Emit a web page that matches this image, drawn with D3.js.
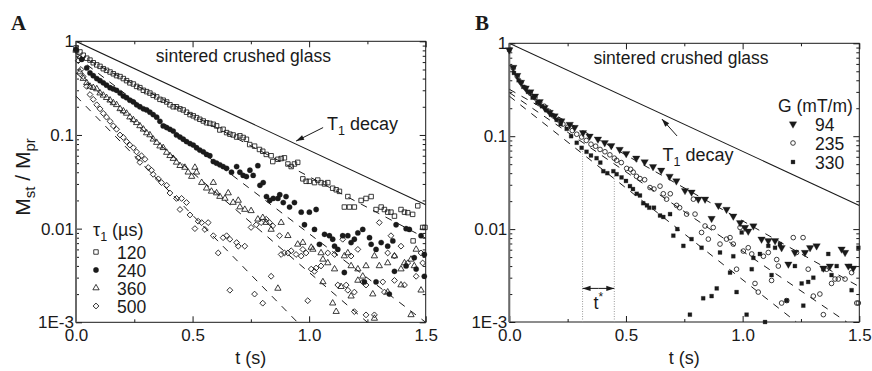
<!DOCTYPE html>
<html>
<head>
<meta charset="utf-8">
<script src="https://cdn.jsdelivr.net/npm/d3@7"></script>
<style>
  body { margin: 0; background: #fff; }
  svg { display: block; }
</style>
</head>
<body>
<svg id="fig" width="872" height="371"></svg>
<script>
// ---- data: [t (s), Mst/Mpr] ----
const xTicks = [0, 0.5, 1.0, 1.5];
const xMinor = [0.25, 0.75, 1.25];
const yTicks = [1, 0.1, 0.01, 0.001];
const yTickLabels = ["1", "0.1", "0.01", "1E-3"];

// panel A, tau1 = 120 us (open squares)
const a120 = [[0,0.85],[0.017,0.77],[0.031,0.71],[0.046,0.66],[0.060,0.63],[0.074,0.59],[0.089,0.56],[0.103,0.54],[0.117,0.51],[0.131,0.49],[0.146,0.47],[0.160,0.45],[0.174,0.43],[0.189,0.42],[0.203,0.40],[0.217,0.38],[0.231,0.36],[0.246,0.35],[0.260,0.33],[0.274,0.32],[0.289,0.30],[0.303,0.29],[0.317,0.28],[0.331,0.265],[0.346,0.255],[0.360,0.24],[0.374,0.235],[0.389,0.225],[0.403,0.21],[0.417,0.20],[0.431,0.20],[0.446,0.19],[0.460,0.185],[0.474,0.175],[0.489,0.165],[0.503,0.16],[0.517,0.153],[0.531,0.147],[0.546,0.141],[0.560,0.135],[0.574,0.133],[0.589,0.13],[0.603,0.125],[0.617,0.113],[0.631,0.115],[0.646,0.106],[0.660,0.102],[0.674,0.10],[0.689,0.095],[0.703,0.098],[0.717,0.094],[0.731,0.09],[0.745,0.079],[0.766,0.076],[0.787,0.070],[0.801,0.067],[0.816,0.062],[0.837,0.060],[0.844,0.052],[0.866,0.055],[0.880,0.056],[0.894,0.057],[0.909,0.049],[0.923,0.046],[0.937,0.049],[0.951,0.051],[0.973,0.034],[0.987,0.032],[1.001,0.032],[1.023,0.031],[1.037,0.033],[1.051,0.031],[1.066,0.030],[1.080,0.031],[1.101,0.027],[1.116,0.026],[1.130,0.025],[1.151,0.017],[1.166,0.022],[1.173,0.017],[1.194,0.017],[1.223,0.020],[1.244,0.021],[1.266,0.022],[1.287,0.016],[1.309,0.017],[1.323,0.016],[1.337,0.015],[1.351,0.015],[1.366,0.0136],[1.394,0.016],[1.409,0.015],[1.423,0.0148],[1.444,0.0142],[1.446,0.0074],[1.466,0.0175],[1.487,0.0103],[1.497,0.0103]];

// panel A, tau1 = 240 us (filled circles)
const a240 = [[0,0.82],[0.024,0.64],[0.046,0.52],[0.060,0.46],[0.074,0.43],[0.089,0.40],[0.103,0.38],[0.117,0.36],[0.131,0.34],[0.146,0.32],[0.160,0.31],[0.174,0.30],[0.189,0.28],[0.203,0.26],[0.217,0.25],[0.231,0.235],[0.246,0.225],[0.260,0.21],[0.274,0.20],[0.289,0.19],[0.303,0.185],[0.317,0.175],[0.331,0.165],[0.346,0.155],[0.360,0.14],[0.374,0.125],[0.389,0.12],[0.403,0.115],[0.417,0.11],[0.431,0.10],[0.446,0.095],[0.460,0.09],[0.474,0.085],[0.489,0.081],[0.503,0.078],[0.517,0.073],[0.531,0.069],[0.546,0.066],[0.560,0.062],[0.574,0.06],[0.589,0.052],[0.603,0.05],[0.617,0.048],[0.631,0.046],[0.646,0.044],[0.667,0.040],[0.689,0.046],[0.703,0.040],[0.717,0.037],[0.731,0.036],[0.746,0.042],[0.76,0.037],[0.78,0.047],[0.789,0.029],[0.803,0.031],[0.817,0.022],[0.831,0.020],[0.846,0.021],[0.866,0.021],[0.874,0.023],[0.889,0.019],[0.901,0.022],[0.916,0.017],[0.937,0.019],[0.966,0.015],[0.980,0.011],[1.001,0.015],[1.023,0.0098],[1.030,0.016],[1.044,0.0068],[1.066,0.0087],[1.087,0.0084],[1.101,0.0077],[1.109,0.0065],[1.123,0.006],[1.144,0.0084],[1.151,0.0034],[1.166,0.0084],[1.180,0.0071],[1.194,0.0077],[1.209,0.009],[1.230,0.0098],[1.237,0.0027],[1.259,0.008],[1.266,0.0068],[1.287,0.006],[1.287,0.0027],[1.309,0.0071],[1.337,0.0065],[1.344,0.002],[1.359,0.0074],[1.366,0.0035],[1.373,0.011],[1.416,0.010],[1.416,0.004],[1.430,0.0098],[1.451,0.0049],[1.459,0.0037],[1.480,0.0084],[1.494,0.0053],[1.494,0.0031]];

// panel A, tau1 = 360 us (open triangles)
const a360 = [[0,0.80],[0.017,0.47],[0.031,0.40],[0.046,0.36],[0.060,0.33],[0.074,0.32],[0.089,0.31],[0.103,0.28],[0.117,0.265],[0.131,0.25],[0.146,0.235],[0.160,0.22],[0.174,0.21],[0.189,0.19],[0.203,0.18],[0.217,0.17],[0.231,0.155],[0.246,0.145],[0.260,0.135],[0.274,0.125],[0.289,0.115],[0.303,0.105],[0.317,0.10],[0.331,0.090],[0.346,0.083],[0.360,0.076],[0.374,0.073],[0.389,0.065],[0.403,0.060],[0.417,0.056],[0.431,0.051],[0.446,0.047],[0.467,0.045],[0.481,0.040],[0.496,0.036],[0.510,0.045],[0.517,0.040],[0.539,0.031],[0.560,0.027],[0.581,0.025],[0.589,0.031],[0.603,0.024],[0.617,0.022],[0.639,0.021],[0.653,0.024],[0.674,0.019],[0.696,0.020],[0.703,0.017],[0.724,0.016],[0.751,0.0155],[0.780,0.0126],[0.801,0.0131],[0.816,0.0116],[0.837,0.0098],[0.866,0.0023],[0.880,0.0116],[0.909,0.0084],[0.951,0.0068],[0.973,0.0071],[1.009,0.0063],[1.016,0.006],[1.051,0.0055],[1.059,0.0047],[1.059,0.0027],[1.080,0.0043],[1.101,0.0016],[1.109,0.0037],[1.116,0.0013],[1.137,0.0024],[1.151,0.0051],[1.166,0.0055],[1.180,0.004],[1.180,0.0019],[1.209,0.0037],[1.209,0.0028],[1.230,0.0031],[1.244,0.004],[1.273,0.002],[1.280,0.0051],[1.280,0.0011],[1.301,0.004],[1.337,0.0043],[1.337,0.0021],[1.366,0.0051],[1.394,0.0037],[1.394,0.0025],[1.409,0.0043],[1.437,0.0047],[1.437,0.0012],[1.451,0.004],[1.459,0.006],[1.480,0.0022]];

// panel A, tau1 = 500 us (open diamonds)
const a500 = [[0,0.80],[0.010,0.62],[0.021,0.50],[0.031,0.42],[0.046,0.33],[0.060,0.27],[0.074,0.24],[0.089,0.21],[0.103,0.19],[0.117,0.17],[0.131,0.155],[0.146,0.14],[0.160,0.125],[0.174,0.115],[0.189,0.10],[0.203,0.094],[0.217,0.085],[0.231,0.078],[0.246,0.073],[0.260,0.066],[0.267,0.057],[0.274,0.051],[0.281,0.06],[0.296,0.055],[0.310,0.045],[0.324,0.042],[0.331,0.038],[0.353,0.034],[0.367,0.031],[0.389,0.029],[0.403,0.024],[0.431,0.021],[0.446,0.016],[0.453,0.021],[0.474,0.019],[0.489,0.014],[0.510,0.010],[0.524,0.012],[0.539,0.0116],[0.553,0.0098],[0.567,0.0116],[0.589,0.0084],[0.610,0.0055],[0.631,0.008],[0.646,0.0084],[0.660,0.0077],[0.660,0.0022],[0.689,0.0071],[0.696,0.0065],[0.724,0.0065],[0.751,0.0103],[0.766,0.002],[0.773,0.011],[0.794,0.0116],[0.801,0.0016],[0.816,0.0126],[0.830,0.0116],[0.837,0.0031],[0.844,0.0107],[0.873,0.0084],[0.880,0.0053],[0.894,0.0055],[0.909,0.0055],[0.923,0.0058],[0.944,0.0053],[0.966,0.0051],[0.973,0.006],[0.987,0.0055],[0.994,0.0017],[1.009,0.0037],[1.023,0.0035],[1.030,0.0038],[1.051,0.004],[1.080,0.0055],[1.109,0.0053],[1.123,0.0025],[1.144,0.0077],[1.159,0.0025],[1.166,0.0022],[1.180,0.0051],[1.194,0.0021],[1.194,0.0013],[1.209,0.006],[1.230,0.0027],[1.244,0.0025],[1.244,0.0012],[1.280,0.0012],[1.301,0.0116],[1.316,0.0027],[1.323,0.0021],[1.337,0.0055],[1.351,0.0084],[1.366,0.0051],[1.366,0.0028],[1.394,0.0065],[1.409,0.0025],[1.423,0.0043],[1.459,0.0031],[1.480,0.0055],[1.487,0.0043]];

// panel B, G = 94 mT/m (filled down-triangles)
const b94 = [[0,0.85],[0.017,0.55],[0.034,0.45],[0.05,0.38],[0.07,0.33],[0.09,0.30],[0.11,0.27],[0.13,0.235],[0.151,0.203],[0.173,0.18],[0.194,0.165],[0.223,0.146],[0.259,0.134],[0.280,0.124],[0.316,0.109],[0.344,0.10],[0.380,0.093],[0.409,0.085],[0.437,0.079],[0.473,0.072],[0.501,0.065],[0.544,0.058],[0.580,0.053],[0.616,0.047],[0.651,0.043],[0.687,0.037],[0.716,0.033],[0.753,0.026],[0.781,0.025],[0.810,0.021],[0.839,0.021],[0.867,0.013],[0.896,0.018],[0.931,0.0163],[0.960,0.0138],[0.989,0.0117],[1.010,0.0104],[1.024,0.0095],[1.046,0.0108],[1.081,0.0078],[1.110,0.0075],[1.139,0.0075],[1.167,0.0063],[1.196,0.0042],[1.224,0.0056],[1.267,0.0056],[1.289,0.0063],[1.317,0.0066],[1.346,0.0038],[1.374,0.004],[1.424,0.0061],[1.439,0.0056],[1.453,0.004],[1.474,0.0038]];

// panel B, G = 235 mT/m (open circles)
const b235 = [[0.017,0.54],[0.034,0.44],[0.05,0.38],[0.07,0.33],[0.09,0.29],[0.11,0.26],[0.13,0.23],[0.15,0.21],[0.17,0.185],[0.19,0.165],[0.21,0.15],[0.23,0.135],[0.25,0.125],[0.27,0.115],[0.289,0.105],[0.31,0.098],[0.33,0.090],[0.35,0.082],[0.37,0.078],[0.389,0.072],[0.41,0.068],[0.431,0.063],[0.45,0.058],[0.46,0.055],[0.48,0.052],[0.503,0.045],[0.52,0.044],[0.531,0.041],[0.545,0.037],[0.56,0.035],[0.58,0.034],[0.603,0.028],[0.62,0.027],[0.646,0.029],[0.66,0.024],[0.674,0.021],[0.69,0.024],[0.717,0.018],[0.73,0.017],[0.76,0.0145],[0.789,0.021],[0.796,0.0145],[0.824,0.0092],[0.839,0.0108],[0.853,0.0078],[0.874,0.0104],[0.903,0.0069],[0.931,0.0078],[0.946,0.0081],[0.960,0.0069],[0.974,0.0037],[0.989,0.0104],[1.003,0.0058],[1.024,0.0063],[1.039,0.0054],[1.053,0.0026],[1.067,0.0021],[1.089,0.0051],[1.110,0.0056],[1.124,0.0028],[1.146,0.0047],[1.153,0.004],[1.167,0.0016],[1.189,0.0017],[1.217,0.0081],[1.231,0.0056],[1.259,0.0081],[1.281,0.0037],[1.303,0.0019],[1.331,0.002],[1.346,0.0012],[1.360,0.0037],[1.381,0.0026],[1.396,0.0029],[1.410,0.0029],[1.439,0.0029],[1.467,0.0034],[1.489,0.0016],[1.496,0.0016]];

// panel B, G = 330 mT/m (filled squares)
const b330 = [[0,0.85],[0.02,0.48],[0.04,0.40],[0.06,0.34],[0.08,0.30],[0.10,0.26],[0.12,0.23],[0.14,0.21],[0.16,0.19],[0.18,0.17],[0.203,0.15],[0.22,0.135],[0.246,0.12],[0.265,0.10],[0.289,0.085],[0.31,0.075],[0.331,0.068],[0.35,0.062],[0.374,0.058],[0.39,0.052],[0.403,0.042],[0.42,0.040],[0.446,0.042],[0.46,0.039],[0.481,0.036],[0.50,0.033],[0.517,0.029],[0.53,0.027],[0.546,0.024],[0.56,0.023],[0.574,0.019],[0.59,0.018],[0.60,0.017],[0.62,0.017],[0.646,0.014],[0.66,0.0135],[0.689,0.0145],[0.703,0.0085],[0.72,0.010],[0.746,0.0066],[0.774,0.0012],[0.781,0.0078],[0.824,0.0063],[0.831,0.0018],[0.867,0.0019],[0.889,0.0023],[0.903,0.0056],[0.946,0.0034],[0.960,0.0051],[0.974,0.0021],[0.996,0.0092],[1.017,0.0012],[1.039,0.0037],[1.046,0.0049],[1.074,0.0054],[1.096,0.001],[1.110,0.0066],[1.124,0.0032],[1.139,0.0063],[1.160,0.0069],[1.189,0.0017],[1.224,0.004],[1.253,0.0026],[1.260,0.0015],[1.281,0.0027],[1.303,0.003],[1.346,0.0037],[1.367,0.0054],[1.381,0.0032],[1.403,0.004],[1.460,0.004],[1.467,0.0022],[1.496,0.0063]];

// exponential fits (dashed) and T1 decay (solid): [t0, v0, t1, v1]
const fitsA = [[0,0.74,1.5,0.0079],[0,0.69,1.5,0.001],[0,0.46,1.25,0.001],[0,0.26,0.95,0.001]];
const fitsB = [[0,0.32,1.5,0.0024],[0,0.295,1.446,0.001],[0,0.27,1.23,0.001]];
const t1Decay = [0,1,1.5,0.018];
const tStar = [0.314, 0.45];

const FONT = "'Liberation Sans', Arial, Helvetica, sans-serif";
const INK = "#1a1a1a";
const svg = d3.select("#fig");

function panel(cfg) {
  const x = d3.scaleLinear().domain([0, 1.5]).range([cfg.left, cfg.right]);
  const y = d3.scaleLog().domain([0.001, 1]).range([cfg.bottom, cfg.top]);
  const g = svg.append("g");

  g.append("clipPath").attr("id", "clip" + cfg.name).append("rect")
    .attr("x", cfg.left).attr("y", cfg.top)
    .attr("width", cfg.right - cfg.left).attr("height", cfg.bottom - cfg.top);

  const minorY = [];
  for (let e = -3; e < 0; e++) for (let k = 2; k <= 9; k++) minorY.push(k * Math.pow(10, e));

  const styleAxis = sel => {
    sel.select(".domain").remove();
    sel.selectAll("line").attr("stroke", INK).attr("stroke-width", 1);
    sel.selectAll("text").attr("font-family", FONT).attr("font-size", 17).attr("fill", INK);
  };

  g.append("g").attr("transform", `translate(0,${cfg.bottom})`)
    .call(d3.axisBottom(x).tickValues(xTicks).tickSizeInner(-6).tickSizeOuter(0).tickPadding(7).tickFormat(d3.format(".1f")))
    .call(styleAxis);
  g.append("g").attr("transform", `translate(0,${cfg.bottom})`)
    .call(d3.axisBottom(x).tickValues(xMinor).tickSizeInner(-3).tickSizeOuter(0).tickFormat(""))
    .call(styleAxis);
  g.append("g").attr("transform", `translate(0,${cfg.top})`)
    .call(d3.axisTop(x).tickValues(xTicks).tickSizeInner(-6).tickSizeOuter(0).tickFormat(""))
    .call(styleAxis);
  g.append("g").attr("transform", `translate(0,${cfg.top})`)
    .call(d3.axisTop(x).tickValues(xMinor).tickSizeInner(-3).tickSizeOuter(0).tickFormat(""))
    .call(styleAxis);

  g.append("g").attr("transform", `translate(${cfg.left},0)`)
    .call(d3.axisLeft(y).tickValues(yTicks).tickSizeInner(-6).tickSizeOuter(0).tickPadding(2)
      .tickFormat((d, i) => yTickLabels[i]))
    .call(styleAxis);
  g.append("g").attr("transform", `translate(${cfg.left},0)`)
    .call(d3.axisLeft(y).tickValues(minorY).tickSizeInner(-3).tickSizeOuter(0).tickFormat(""))
    .call(styleAxis);
  g.append("g").attr("transform", `translate(${cfg.right},0)`)
    .call(d3.axisRight(y).tickValues(yTicks).tickSizeInner(-6).tickSizeOuter(0).tickFormat(""))
    .call(styleAxis);
  g.append("g").attr("transform", `translate(${cfg.right},0)`)
    .call(d3.axisRight(y).tickValues(minorY).tickSizeInner(-3).tickSizeOuter(0).tickFormat(""))
    .call(styleAxis);

  // frame
  g.append("rect").attr("x", cfg.left).attr("y", cfg.top)
    .attr("width", cfg.right - cfg.left).attr("height", cfg.bottom - cfg.top)
    .attr("fill", "none").attr("stroke", INK).attr("stroke-width", 1);
  g.append("line").attr("x1", cfg.left).attr("x2", cfg.left)
    .attr("y1", cfg.top).attr("y2", cfg.bottom)
    .attr("stroke", "#6a6a6a").attr("stroke-width", 2);

  const lines = g.append("g").attr("clip-path", `url(#clip${cfg.name})`);
  lines.append("line")
    .attr("x1", x(t1Decay[0])).attr("y1", y(t1Decay[1]))
    .attr("x2", x(t1Decay[2])).attr("y2", y(t1Decay[3]))
    .attr("stroke", INK).attr("stroke-width", 1.1);
  lines.selectAll("line.fit").data(cfg.fits).enter().append("line")
    .attr("class", "fit")
    .attr("x1", d => x(d[0])).attr("y1", d => y(d[1]))
    .attr("x2", d => x(d[2])).attr("y2", d => y(d[3]))
    .attr("stroke", INK).attr("stroke-width", 1).attr("stroke-dasharray", "7,7");

  // panel letter
  svg.append("text").attr("x", cfg.letterX).attr("y", 30)
    .attr("font-family", "'Liberation Serif', 'Times New Roman', serif")
    .attr("font-weight", "bold").attr("font-size", 21).attr("fill", INK)
    .text(cfg.name);

  // x title
  g.append("text").attr("x", x(0.75)).attr("y", 364)
    .attr("text-anchor", "middle").attr("font-family", FONT).attr("font-size", 18).attr("fill", INK)
    .text("t (s)");

  // sample title
  g.append("text").attr("x", x(cfg.glassT)).attr("y", y(0.6))
    .attr("text-anchor", "middle").attr("font-family", FONT).attr("font-size", 17.5).attr("fill", INK)
    .text("sintered crushed glass");

  return { g, x, y };
}

function sym(type, size, rot) {
  const p = d3.symbol().type(type).size(size)();
  return rot ? p : p;
}

function drawSeries(g, x, y, s) {
  const path = d3.symbol().type(s.type).size(s.size)();
  g.append("g").selectAll("path").data(s.data).enter().append("path")
    .attr("d", path)
    .attr("transform", d => `translate(${x(d[0])},${y(d[1])})${s.rot ? " rotate(" + s.rot + ")" : ""}`)
    .attr("fill", s.filled ? INK : "#fff")
    .attr("fill-opacity", s.filled ? 1 : 0)
    .attr("stroke", INK).attr("stroke-width", s.filled ? 0.3 : 0.85);
}

function legendMark(g, px, py, s) {
  g.append("path").attr("d", d3.symbol().type(s.type).size(s.size)())
    .attr("transform", `translate(${px},${py})${s.rot ? " rotate(" + s.rot + ")" : ""}`)
    .attr("fill", s.filled ? INK : "none")
    .attr("stroke", INK).attr("stroke-width", s.filled ? 0.3 : 0.85);
}

function t1Label(g, px, py) {
  const t = g.append("text").attr("x", px).attr("y", py)
    .attr("font-family", FONT).attr("font-size", 18).attr("fill", INK);
  t.append("tspan").text("T");
  t.append("tspan").attr("font-size", 12.5).attr("dy", 5).text("1");
  t.append("tspan").attr("dy", -5).text(" decay");
}

function arrow(g, x1, y1, x2, y2) {
  g.append("line").attr("x1", x1).attr("y1", y1).attr("x2", x2).attr("y2", y2)
    .attr("stroke", INK).attr("stroke-width", 1);
  const a = Math.atan2(y2 - y1, x2 - x1), L = 8, W = 2.6;
  const bx = x2 - L * Math.cos(a), by = y2 - L * Math.sin(a);
  g.append("path")
    .attr("d", `M${x2},${y2}L${bx + W * Math.sin(a)},${by - W * Math.cos(a)}L${bx - W * Math.sin(a)},${by + W * Math.cos(a)}Z`)
    .attr("fill", INK);
}

// ---------------- panel A ----------------
const A = panel({ name: "A", left: 76, right: 425.7, top: 41.3, bottom: 322.3, fits: fitsA, letterX: 11, glassT: 0.718 });
const seriesA = [
  { label: "120", data: a120, type: d3.symbolSquare, size: 20 },
  { label: "240", data: a240, type: d3.symbolCircle, size: 22, filled: true },
  { label: "360", data: a360, type: d3.symbolTriangle, size: 17 },
  { label: "500", data: a500, type: d3.symbolSquare, size: 17, rot: 45 }
];
seriesA.forEach(s => drawSeries(A.g, A.x, A.y, s));

// y title
const yt = A.g.append("text").attr("transform", "translate(30,177) rotate(-90)")
  .attr("text-anchor", "middle").attr("font-family", FONT).attr("font-size", 21).attr("fill", INK);
yt.append("tspan").text("M");
yt.append("tspan").attr("font-size", 15).attr("dy", 5).text("st");
yt.append("tspan").attr("dy", -5).text(" / M");
yt.append("tspan").attr("font-size", 15).attr("dy", 5).text("pr");

t1Label(A.g, A.x(1.077), A.y(0.113));
arrow(A.g, A.x(1.06), A.y(0.12), A.x(0.944), A.y(0.086));

// legend A
const lgA = A.g.append("g");
const ltA = lgA.append("text").attr("x", 93).attr("y", 236)
  .attr("font-family", FONT).attr("font-size", 18).attr("fill", INK);
ltA.append("tspan").text("\u03C4");
ltA.append("tspan").attr("font-size", 12.5).attr("dy", 5).text("1");
ltA.append("tspan").attr("dy", -5).text(" (\u00B5s)");
seriesA.forEach((s, i) => {
  const cy = 252 + i * 18;
  legendMark(lgA, 96, cy, s);
  lgA.append("text").attr("x", 117).attr("y", cy + 6.5)
    .attr("font-family", FONT).attr("font-size", 17.5).attr("fill", INK).text(s.label);
});

// ---------------- panel B ----------------
const B = panel({ name: "B", left: 509.3, right: 859.3, top: 43.3, bottom: 322, fits: fitsB, letterX: 475, glassT: 0.736 });
const seriesB = [
  { label: "94", data: b94, type: d3.symbolTriangle, size: 24, filled: true, rot: 180 },
  { label: "235", data: b235, type: d3.symbolCircle, size: 17 },
  { label: "330", data: b330, type: d3.symbolSquare, size: 15, filled: true }
];

// t* marker
const ts = B.g.append("g");
tStar.forEach(t => {
  ts.append("line").attr("x1", B.x(t)).attr("x2", B.x(t))
    .attr("y1", B.y(0.001)).attr("y2", B.y(t === tStar[0] ? 0.075 : 0.039))
    .attr("stroke", "#9a9a9a").attr("stroke-width", 1).attr("stroke-dasharray", "1,1.5");
});
const ay = B.y(0.0023);
arrow(ts, B.x(0.382), ay, B.x(tStar[0]), ay);
arrow(ts, B.x(0.382), ay, B.x(tStar[1]), ay);
const tsl = ts.append("text").attr("x", B.x(0.382)).attr("y", 309)
  .attr("text-anchor", "middle").attr("font-family", FONT).attr("font-size", 18).attr("fill", INK);
tsl.append("tspan").text("t");
tsl.append("tspan").attr("font-size", 12).attr("dy", -8).text("*");

seriesB.forEach(s => drawSeries(B.g, B.x, B.y, s));

t1Label(B.g, B.x(0.657), B.y(0.054));
arrow(B.g, B.x(0.719), B.y(0.1005), B.x(0.654), B.y(0.153));

// legend B
const lgB = B.g.append("g");
lgB.append("text").attr("x", 778).attr("y", 112)
  .attr("font-family", FONT).attr("font-size", 17.5).attr("fill", INK).text("G (mT/m)");
seriesB.forEach((s, i) => {
  const cy = 124 + i * 19;
  legendMark(lgB, 793, cy, s);
  lgB.append("text").attr("x", 815).attr("y", cy + 6.5)
    .attr("font-family", FONT).attr("font-size", 17.5).attr("fill", INK).text(s.label);
});
</script>
</body>
</html>
